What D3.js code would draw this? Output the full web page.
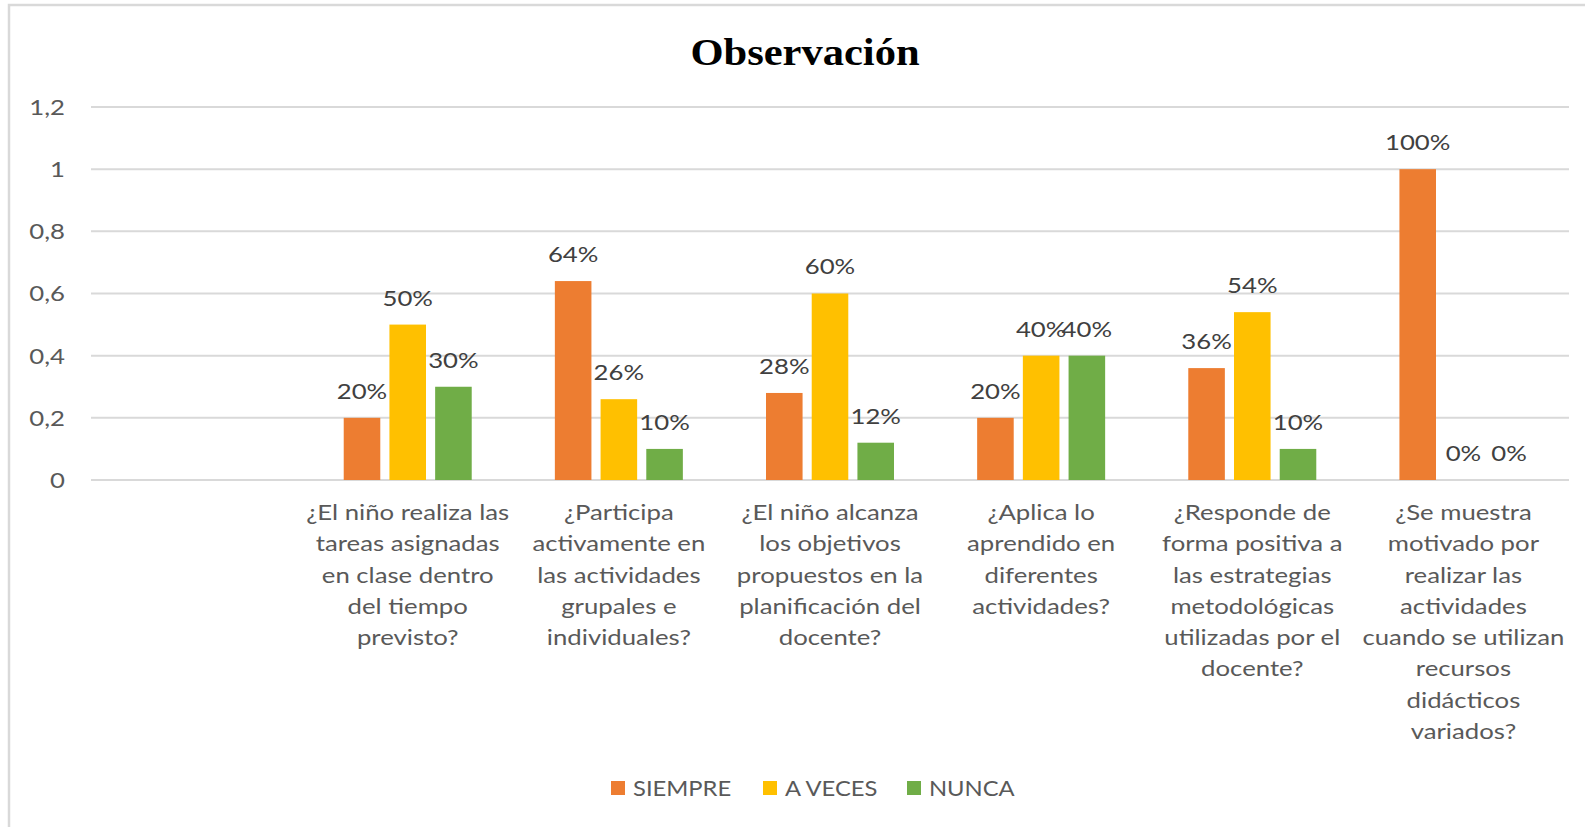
<!DOCTYPE html>
<html><head><meta charset="utf-8">
<script src="https://cdn.jsdelivr.net/npm/d3@7"></script>
<style>body{margin:0;background:#fff;} svg{display:block;}</style>
</head><body>
<svg id="chart" width="1585" height="827"></svg>
<script>
const categories = [
  [],
  ["¿El niño realiza las","tareas asignadas","en clase dentro","del tiempo","previsto?"],
  ["¿Participa","activamente en","las actividades","grupales e","individuales?"],
  ["¿El niño alcanza","los objetivos","propuestos en la","planificación del","docente?"],
  ["¿Aplica lo","aprendido en","diferentes","actividades?"],
  ["¿Responde de","forma positiva a","las estrategias","metodológicas","utilizadas por el","docente?"],
  ["¿Se muestra","motivado por","realizar las","actividades","cuando se utilizan","recursos","didácticos","variados?"]
];
const seriesNames = ["SIEMPRE","A VECES","NUNCA"];
const siempre = [null, 0.20, 0.64, 0.28, 0.20, 0.36, 1.00];
const aVeces  = [null, 0.50, 0.26, 0.60, 0.40, 0.54, 0.00];
const nunca   = [null, 0.30, 0.10, 0.12, 0.40, 0.10, 0.00];
const yTicks = [0, 0.2, 0.4, 0.6, 0.8, 1, 1.2];
const colors = ["#ED7D31","#FFC000","#70AD47"];
const title = "Observación";

(function(){
const series = [siempre, aVeces, nunca];
const svg = d3.select("#chart");
const font = "Lato, 'Open Sans', sans-serif";
const SX = 1.17;

svg.append("path").attr("d","M1590,5H9V830")
  .attr("fill","none").attr("stroke","#d9d9d9").attr("stroke-width",2.5);

const pL = 91, pR = 1569, pT = 107, pB = 480;
const x0 = d3.scaleBand().domain(d3.range(categories.length)).range([pL,pR]).padding(0);
const groupW = 128;
const x1 = d3.scaleBand().domain(d3.range(seriesNames.length)).range([0,groupW]).paddingInner(0.2);
const y = d3.scaleLinear().domain([0,1.2]).range([pB, pT]);

svg.append("g").selectAll("line").data(yTicks).join("line")
  .attr("x1",pL).attr("x2",pR)
  .attr("y1",d=>y(d)).attr("y2",d=>y(d))
  .attr("stroke","#d9d9d9").attr("stroke-width",2);

const fmt = d => d3.format(".1~f")(d).replace(".",",");
svg.append("g").selectAll("text").data(yTicks).join("text")
  .attr("transform",d=>`translate(65,${y(d)}) scale(${SX},1)`).attr("dy","0.36em")
  .attr("text-anchor","end").attr("font-family",font).attr("font-size",22)
  .attr("fill","#595959").text(fmt);

const bars = [];
categories.forEach((c,i)=>{
  series.forEach((s,j)=>{
    if (s[i] !== null) bars.push({i,j,v:s[i]});
  });
});
const bx = d => x0(d.i) + (x0.bandwidth()-groupW)/2 + x1(d.j);
svg.append("g").selectAll("rect").data(bars).join("rect")
  .attr("x",bx).attr("width",x1.bandwidth())
  .attr("y",d=>y(d.v)).attr("height",d=>y(0)-y(d.v))
  .attr("fill",d=>colors[d.j]);

svg.append("g").selectAll("text").data(bars).join("text")
  .attr("transform",d=>`translate(${bx(d)+x1.bandwidth()/2},${y(d.v)-27}) scale(${SX},1)`).attr("dy","0.36em")
  .attr("text-anchor","middle").attr("font-family",font).attr("font-size",22)
  .attr("fill","#404040").text(d=>Math.round(d.v*100)+"%");

categories.forEach((lines,i)=>{
  const t = svg.append("text").attr("text-anchor","middle").attr("font-family",font)
    .attr("transform",`translate(${x0(i)+x0.bandwidth()/2},512) scale(${SX},1)`)
    .attr("font-size",22).attr("fill","#595959");
  lines.forEach((ln,k)=>{
    t.append("tspan").attr("x",0).attr("y",k*31.3).attr("dy","0.36em").text(ln);
  });
});

svg.append("text").attr("transform","translate(805,51) scale(1.12,1)").attr("dy","0.36em").attr("text-anchor","middle")
  .attr("font-family","'Liberation Serif','Times New Roman',serif").attr("font-weight","bold")
  .attr("font-size",38).attr("fill","#000").text(title);

const legX = [611, 763, 907];
const lg = svg.append("g").selectAll("g").data(seriesNames).join("g")
  .attr("transform",(d,i)=>`translate(${legX[i]},788)`);
lg.append("rect").attr("x",0).attr("y",-7).attr("width",14).attr("height",14).attr("fill",(d,i)=>colors[i]);
lg.append("text").attr("transform","translate(22,0) scale(1.08,1)").attr("dy","0.36em").attr("font-family",font)
  .attr("font-size",22).attr("fill","#595959").text(d=>d);
})();
</script>
</body></html>
